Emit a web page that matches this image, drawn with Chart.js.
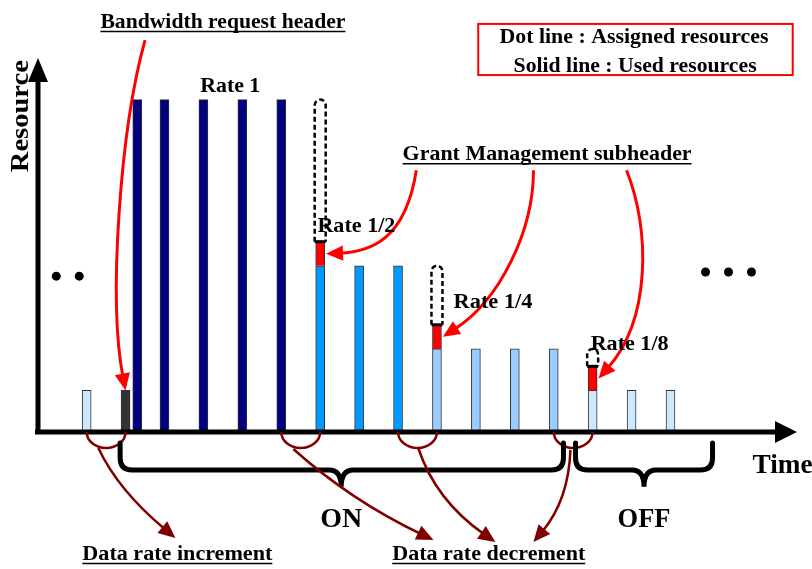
<!DOCTYPE html>
<html>
<head>
<meta charset="utf-8">
<title>Resource / Time</title>
<script src="https://cdn.jsdelivr.net/npm/chart.js@4.4.1/dist/chart.umd.min.js"></script>
<style>
  html, body { margin: 0; padding: 0; background: #fff; }
  #wrap { width: 812px; height: 569px; position: relative; }
</style>
</head>
<body>
<div id="wrap"><canvas id="resource-chart"></canvas></div>
<script>
// Time slots of the frames (1.3 = the extra frame right after the BR header)
const slots = [0, 1, 1.3, 2, 3, 4, 5, 6, 7, 8, 9, 10, 11, 12, 13, 14, 15]
// Used resources, rate 1 = 8 units
const used = [1, 1, 8, 8, 8, 8, 8, 4, 4, 4, 2, 2, 2, 2, 1, 1, 1]
const usedColors = [
  '#cce8ff', '#333333',
  '#000080', '#000080', '#000080', '#000080', '#000080',
  '#0099ff', '#0099ff', '#0099ff',
  '#99ccff', '#99ccff', '#99ccff', '#99ccff',
  '#cce8ff', '#cce8ff', '#cce8ff'
]
// Grant management subheader (red part on top of the used part)
const headerSlots = [6, 9, 13]
const headerSize = [0.58, 0.58, 0.58]
// Assigned resources (dot line)
const assigned = [8, 4, 2]
// the "..." marks
const dotsX = [-0.78, -0.19, 15.9, 16.49, 17.08]
const dotsY = [3.75, 3.75, 3.85, 3.85, 3.85]

const headerBase = headerSlots.map(s => used[slots.indexOf(s)])

const FONT = '"Times New Roman", "Liberation Serif", serif'

// text labels, k = time slot, v = resource units
const labels = [
  { text: 'Bandwidth request header', k: 3.5, v: 9.72, size: 21, w: 245, underline: true },
  { text: 'Rate 1', k: 3.69, v: 8.18, size: 22, w: 60 },
  { text: 'Dot line : Assigned resources', k: 14.06, v: 9.36, size: 22, w: 269 },
  { text: 'Solid line : Used resources', k: 14.09, v: 8.66, size: 22, w: 243 },
  { text: 'Grant Management subheader', k: 11.83, v: 6.54, size: 22, w: 289, underline: true },
  { text: 'Rate 1/2', k: 6.93, v: 4.81, size: 22, w: 78 },
  { text: 'Rate 1/4', k: 10.44, v: 2.98, size: 22, w: 79 },
  { text: 'Rate 1/8', k: 13.95, v: 1.97, size: 22, w: 78 },
  { text: 'Time', k: 17.88, v: -0.99, size: 28, w: 60 },
  { text: 'ON', k: 6.54, v: -2.29, size: 28, w: 42 },
  { text: 'OFF', k: 14.32, v: -2.29, size: 28, w: 53 },
  { text: 'Data rate increment', k: 2.33, v: -3.08, size: 20, w: 190, underline: true },
  { text: 'Data rate decrement', k: 10.33, v: -3.08, size: 20, w: 193, underline: true }
]

// red arrows (header pointers)
const redArrows = [
  [[1.5, 9.43], [0.86, 7.27], [0.55, 3.18], [1, 1]],
  [[8.47, 6.3], [8.19, 4.62], [7.29, 4.33], [headerSlots[0] + 0.15, headerBase[0] + headerSize[0] / 2]],
  [[11.48, 6.3], [11.48, 4.86], [10.63, 3.18], [headerSlots[1] + 0.15, headerBase[1] + headerSize[1] / 2]],
  [[13.87, 6.3], [14.49, 4.86], [14.49, 2.69], [headerSlots[2] + 0.15, headerBase[2] + headerSize[2] / 2]]
]
// dark red arrows (rate change)
const rateArrows = [
  [[0.3, -0.385], [0.81, -1.4], [2.28, -2.55]],
  [[5.31, -0.41], [6.77, -1.64], [8.91, -2.6]],
  [[8.52, -0.385], [8.96, -1.64], [10.5, -2.65]],
  [[12.43, -0.43], [12.38, -1.64], [11.48, -2.65]]
]
const rateChanges = [0.5, 5.5, 8.5, 12.5]
// braces: from, to, tip
const braces = [[0.86, 12.25, 6.54], [12.56, 16.08, 14.32]]

function fitText (ctx, s, x, y, size, w, underline) {
  ctx.save()
  ctx.font = `bold ${size}px ${FONT}`
  const m = ctx.measureText(s).width
  ctx.translate(x, y)
  ctx.scale(w / m, 1)
  ctx.textAlign = 'center'
  ctx.textBaseline = 'alphabetic'
  ctx.fillStyle = '#000'
  ctx.fillText(s, 0, 0)
  ctx.restore()
  if (underline) {
    ctx.save()
    ctx.strokeStyle = '#000'
    ctx.lineWidth = 1.5
    ctx.beginPath()
    ctx.moveTo(x - w / 2, y + 3.5)
    ctx.lineTo(x + w / 2, y + 3.5)
    ctx.stroke()
    ctx.restore()
  }
}

function arrow (ctx, pts, color, width, head) {
  const n = pts.length
  const end = pts[n - 1]
  const prev = pts[n - 2]
  const dx = end[0] - prev[0]
  const dy = end[1] - prev[1]
  const len = Math.hypot(dx, dy)
  const ux = dx / len
  const uy = dy / len
  const stop = [end[0] - ux * head * 0.8, end[1] - uy * head * 0.8]
  ctx.save()
  ctx.strokeStyle = color
  ctx.fillStyle = color
  ctx.lineWidth = width
  ctx.beginPath()
  ctx.moveTo(pts[0][0], pts[0][1])
  if (n === 4) ctx.bezierCurveTo(pts[1][0], pts[1][1], pts[2][0], pts[2][1], stop[0], stop[1])
  else ctx.quadraticCurveTo(pts[1][0], pts[1][1], stop[0], stop[1])
  ctx.stroke()
  const bx = end[0] - ux * head
  const by = end[1] - uy * head
  ctx.beginPath()
  ctx.moveTo(end[0], end[1])
  ctx.lineTo(bx - uy * head * 0.45, by + ux * head * 0.45)
  ctx.lineTo(bx + uy * head * 0.45, by - ux * head * 0.45)
  ctx.closePath()
  ctx.fill()
  ctx.restore()
}

const diagram = {
  id: 'diagram',
  afterDatasetsDraw (chart) {
    const ctx = chart.ctx
    const xs = chart.scales.x
    const ys = chart.scales.y
    const P = (p) => [xs.getPixelForValue(p[0]), ys.getPixelForValue(p[1])]
    const y0 = ys.getPixelForValue(0)
    const x0 = xs.left

    // Assigned resources: dashed boxes
    chart.getDatasetMeta(2).data.forEach(el => {
      const { x, y, base, width } = el.getProps(['x', 'y', 'base', 'width'], true)
      const l = x - width / 2
      const r = x + width / 2
      const rad = width / 2
      ctx.save()
      ctx.strokeStyle = '#000'
      ctx.lineWidth = 2.5
      ctx.setLineDash([5, 3])
      ctx.beginPath()
      ctx.moveTo(l, base)
      ctx.lineTo(l, y + rad)
      ctx.arcTo(l, y, l + rad, y, rad)
      ctx.arcTo(r, y, r, y + rad, rad)
      ctx.lineTo(r, base)
      ctx.stroke()
      ctx.setLineDash([])
      ctx.lineWidth = 3
      ctx.beginPath()
      ctx.moveTo(l, base)
      ctx.lineTo(r, base)
      ctx.stroke()
      ctx.restore()
    })

    // axes with arrow heads
    ctx.save()
    ctx.strokeStyle = '#000'
    ctx.fillStyle = '#000'
    ctx.lineWidth = 5
    ctx.beginPath()
    ctx.moveTo(x0, y0 + 2.5)
    ctx.lineTo(x0, ys.top + 20)
    ctx.moveTo(x0 - 3, y0)
    ctx.lineTo(xs.right - 20, y0)
    ctx.stroke()
    ctx.beginPath()
    ctx.moveTo(x0, ys.top)
    ctx.lineTo(x0 - 10, ys.top + 24)
    ctx.lineTo(x0 + 10, ys.top + 24)
    ctx.closePath()
    ctx.moveTo(xs.right, y0)
    ctx.lineTo(xs.right - 22, y0 - 11)
    ctx.lineTo(xs.right - 22, y0 + 11)
    ctx.closePath()
    ctx.fill()
    ctx.restore()

    // rate change markers under the axis
    ctx.save()
    ctx.strokeStyle = '#800000'
    ctx.lineWidth = 2.5
    rateChanges.forEach(k => {
      const cx = xs.getPixelForValue(k)
      const rx = xs.getPixelForValue(k + 0.5) - cx
      ctx.beginPath()
      ctx.ellipse(cx, y0, rx, 16, 0, 0, Math.PI)
      ctx.stroke()
    })
    ctx.restore()

    // ON / OFF braces
    ctx.save()
    ctx.strokeStyle = '#000'
    ctx.lineWidth = 5
    ctx.lineCap = 'round'
    const top = ys.getPixelForValue(-0.265)
    const mid = ys.getPixelForValue(-0.914)
    const tipY = ys.getPixelForValue(-1.32)
    braces.forEach(b => {
      const a = xs.getPixelForValue(b[0])
      const c = xs.getPixelForValue(b[1])
      const t = xs.getPixelForValue(b[2])
      const r = 12
      ctx.beginPath()
      ctx.moveTo(a, top)
      ctx.lineTo(a, mid - r)
      ctx.quadraticCurveTo(a, mid, a + r, mid)
      ctx.lineTo(t - r, mid)
      ctx.quadraticCurveTo(t, mid, t, tipY)
      ctx.quadraticCurveTo(t, mid, t + r, mid)
      ctx.lineTo(c - r, mid)
      ctx.quadraticCurveTo(c, mid, c, mid - r)
      ctx.lineTo(c, top)
      ctx.stroke()
    })
    ctx.restore()

    // arrows
    redArrows.forEach(a => arrow(ctx, a.map(P), '#ff0000', 3, 17))
    rateArrows.forEach(a => arrow(ctx, a.map(P), '#800000', 2.5, 17))

    // legend box
    const b1 = P([10.06, 9.82])
    const b2 = P([18.14, 8.59])
    ctx.save()
    ctx.strokeStyle = '#ff0000'
    ctx.lineWidth = 2
    ctx.strokeRect(b1[0], b1[1], b2[0] - b1[0], b2[1] - b1[1])
    ctx.restore()

    // labels
    labels.forEach(l => {
      const p = P([l.k, l.v])
      fitText(ctx, l.text, p[0], p[1], l.size, l.w, l.underline)
    })

    // y axis title
    const rp = P([-1.5, 7.6])
    ctx.save()
    ctx.translate(rp[0], rp[1])
    ctx.rotate(-Math.PI / 2)
    fitText(ctx, 'Resource', 0, 0, 26, 112, false)
    ctx.restore()
  }
}

const ctx1 = document.getElementById('resource-chart').getContext('2d')
const myChart1 = new Chart(ctx1, {
  type: 'bar',
  data: {
    datasets: [
      {
        label: 'Used resources',
        data: slots.map((x, i) => ({ x, y: used[i] })),
        backgroundColor: usedColors,
        borderColor: '#333333',
        borderWidth: 1,
        barThickness: 9,
        grouped: false,
        order: 3
      },
      {
        label: 'Grant Management subheader',
        data: headerSlots.map((x, i) => ({ x, y: [headerBase[i], headerBase[i] + headerSize[i]] })),
        backgroundColor: '#ff0000',
        borderColor: '#333333',
        borderWidth: 1,
        barThickness: 9,
        grouped: false,
        order: 2
      },
      {
        label: 'Assigned resources',
        data: headerSlots.map((x, i) => ({ x, y: [headerBase[i] + headerSize[i], assigned[i]] })),
        backgroundColor: 'rgba(0, 0, 0, 0)',
        borderWidth: 0,
        barThickness: 11,
        grouped: false,
        order: 1
      },
      {
        type: 'scatter',
        label: 'dots',
        data: dotsX.map((x, i) => ({ x, y: dotsY[i] })),
        backgroundColor: '#000',
        borderWidth: 0,
        pointRadius: 4.5,
        order: 0
      }
    ]
  },
  options: {
    responsive: true,
    maintainAspectRatio: false,
    animation: false,
    layout: { padding: { left: 38, right: 15, top: 58, bottom: 137 } },
    scales: {
      x: { type: 'linear', min: -1.25, max: 18.25, offset: false, display: false },
      y: { min: 0, max: 9, display: false }
    },
    plugins: {
      legend: { display: false },
      tooltip: { enabled: false }
    }
  },
  plugins: [diagram]
})
</script>
</body>
</html>
